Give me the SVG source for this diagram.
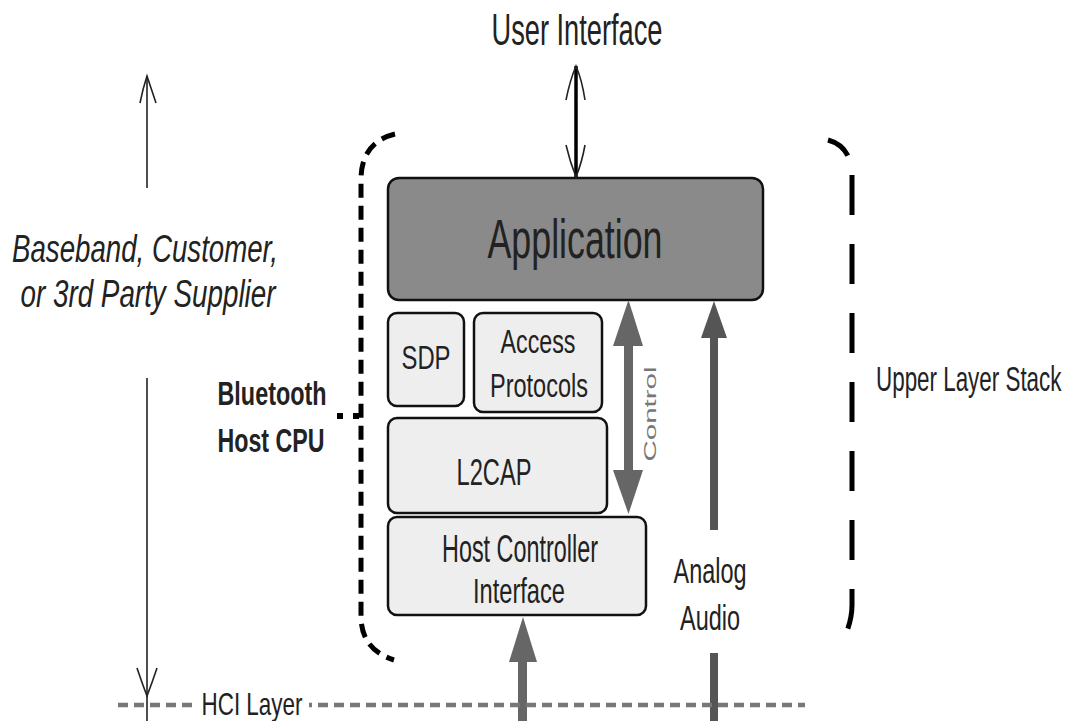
<svg xmlns="http://www.w3.org/2000/svg" width="1073" height="721" viewBox="0 0 1073 721">
<style>
  .box { fill: #eeeeee; stroke: #111111; stroke-width: 2.5; }
  .app { fill: #8a8a8a; stroke: #111111; stroke-width: 2.5; }
  .lbl { font-family: "Liberation Sans", Arial, sans-serif; fill: #222222; text-anchor: middle; }
  .thin { stroke: #222222; stroke-width: 1.6; fill: none; }
  .bracket { stroke: #000000; stroke-width: 5; fill: none; }
  .hci { stroke: #777777; stroke-width: 4.5; fill: none; }
</style>
<rect width="1073" height="721" fill="#ffffff"/>

<g id="title-user-interface">
  <text class="lbl" x="577" y="45" font-size="44" textLength="171" lengthAdjust="spacingAndGlyphs">User Interface</text>
</g>

<g id="side-label-supplier">
  <text class="lbl" x="145" y="262" font-size="39" font-style="italic" fill="#333333" textLength="266" lengthAdjust="spacingAndGlyphs">Baseband, Customer,</text>
  <text class="lbl" x="148" y="307" font-size="39" font-style="italic" fill="#333333" textLength="255" lengthAdjust="spacingAndGlyphs">or 3rd Party Supplier</text>
</g>

<g id="side-label-host-cpu">
  <text class="lbl" x="272" y="405" font-size="33" font-weight="bold" textLength="109" lengthAdjust="spacingAndGlyphs">Bluetooth</text>
  <text class="lbl" x="271" y="452" font-size="33" font-weight="bold" textLength="107" lengthAdjust="spacingAndGlyphs">Host CPU</text>
</g>

<g id="side-label-upper-layer-stack">
  <text class="lbl" transform="translate(876 391) scale(0.64 1)" x="0" y="0" font-size="35" style="text-anchor:start">Upper Layer Stack</text>
</g>

<g id="node-application">
  <rect class="app" x="388" y="178" width="375" height="122" rx="11" ry="11"/>
  <text class="lbl" x="575" y="258" font-size="55" textLength="175" lengthAdjust="spacingAndGlyphs">Application</text>
</g>

<g id="node-sdp">
  <rect class="box" x="388" y="313" width="76" height="93" rx="9" ry="9"/>
  <text class="lbl" x="426" y="369" font-size="34" textLength="49" lengthAdjust="spacingAndGlyphs">SDP</text>
</g>

<g id="node-access-protocols">
  <rect class="box" x="474" y="313" width="128" height="99" rx="9" ry="9"/>
  <text class="lbl" x="538" y="353" font-size="34" textLength="75" lengthAdjust="spacingAndGlyphs">Access</text>
  <text class="lbl" x="539" y="397" font-size="34" textLength="98" lengthAdjust="spacingAndGlyphs">Protocols</text>
</g>

<g id="node-l2cap">
  <rect class="box" x="388" y="418" width="219" height="95" rx="9" ry="9"/>
  <text class="lbl" x="494" y="485" font-size="36" textLength="75" lengthAdjust="spacingAndGlyphs">L2CAP</text>
</g>

<g id="node-hci">
  <rect class="box" x="388" y="517" width="258" height="98" rx="9" ry="9"/>
  <text class="lbl" x="520" y="562" font-size="38" textLength="156" lengthAdjust="spacingAndGlyphs">Host Controller</text>
  <text class="lbl" x="519" y="603" font-size="35" textLength="92" lengthAdjust="spacingAndGlyphs">Interface</text>
</g>

<g id="label-analog-audio">
  <text class="lbl" x="710" y="583" font-size="35" textLength="73" lengthAdjust="spacingAndGlyphs">Analog</text>
  <text class="lbl" x="710" y="630" font-size="35" textLength="60" lengthAdjust="spacingAndGlyphs">Audio</text>
</g>

<g id="label-hci-layer">
  <text class="lbl" x="252" y="715" font-size="32" fill="#444444" textLength="101" lengthAdjust="spacingAndGlyphs">HCI Layer</text>
</g>

<g id="connectors">
  <!-- User interface double arrow -->
  <line x1="576" y1="66" x2="576" y2="177" stroke="#000000" stroke-width="3.5"/>
  <path class="thin" d="M566 100 Q570 80 576 66 Q582 80 585 100"/>
  <path class="thin" d="M566 145 Q570 162 576 177 Q582 162 585 145"/>

  <!-- Left scope arrow -->
  <line class="thin" x1="147" y1="76" x2="147" y2="188"/>
  <path class="thin" d="M140 103 Q143 88 147 76 Q151 88 156 103"/>
  <line class="thin" x1="147" y1="378" x2="147" y2="721"/>
  <path class="thin" d="M137 668 Q142 683 147 696 Q152 683 157 668"/>

  <!-- Control double arrow -->
  <g fill="#666666">
    <rect x="624" y="344" width="9" height="128"/>
    <polygon points="628.5,300 613,346 643,346"/>
    <polygon points="628.5,514 613,470 643,470"/>
  </g>
  <text x="656" y="414" font-family="Liberation Sans, Arial, sans-serif" font-size="16" fill="#777777" text-anchor="middle" transform="rotate(-90 656 414)" textLength="95" lengthAdjust="spacingAndGlyphs">Control</text>

  <!-- Analog audio arrow -->
  <g fill="#555555">
    <rect x="710" y="335" width="8" height="195"/>
    <polygon points="714,301 701,338 727,338"/>
    <rect x="710" y="653" width="8" height="68"/>
  </g>

  <!-- HCI input arrow -->
  <g fill="#666666">
    <rect x="518" y="660" width="9" height="61"/>
    <polygon points="523,617 509,662 537,662"/>
  </g>

  <!-- HCI layer dashed line -->
  <line class="hci" x1="118" y1="705" x2="193" y2="705" stroke-dasharray="10 6"/>
  <line class="hci" x1="309" y1="705" x2="805" y2="705" stroke-dasharray="3 6 10 6 10 6 10 6 10 6 10 6 10 6 10 6 10 6 10 6 10 6 10 6 10 6 10 6 10 6 10 6 10 6 10 6 10 6 10 6 10 6 10 6 10 6 10 6 10 6 10 6 10 6 10 6 10 6 10 6 10 6 10 6 10 6 10 6 10 6 10 6 10 6 10 6"/>

  <!-- Bluetooth host CPU bracket -->
  <path class="bracket" d="M395 134 Q362 142 361 178 L361 618 Q362 650 394 660" stroke-dasharray="14 8"/>
  <line x1="337" y1="416" x2="361" y2="416" stroke="#000000" stroke-width="6" stroke-dasharray="6 10"/>

  <!-- Upper layer stack bracket -->
  <path class="bracket" d="M828 140 Q850 146 852 172 L852 605 Q852 622 843 640" stroke-dasharray="26 20 40 29 40 29 40 29 40 29 40 29 40 29 40 29"/>
</g>
</svg>
